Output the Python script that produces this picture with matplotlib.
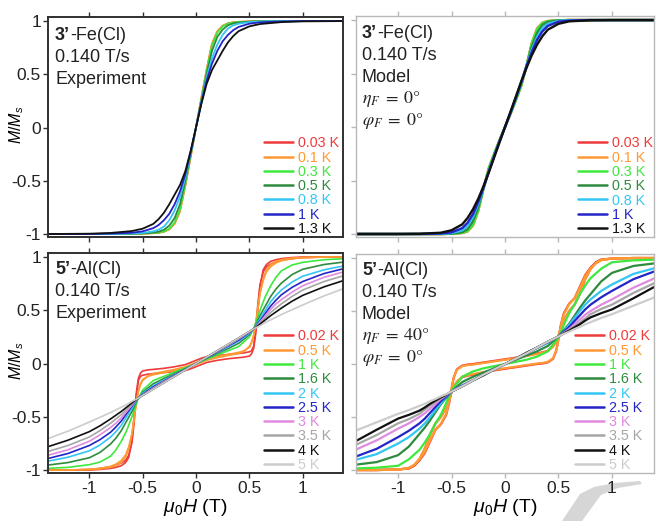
import matplotlib
matplotlib.use("Agg")
import matplotlib.pyplot as plt
from matplotlib.patches import Polygon

plt.rcParams['font.family'] = ['Liberation Sans', 'DejaVu Sans']
plt.rcParams['axes.unicode_minus'] = False
plt.rcParams['mathtext.fontset'] = 'custom'
plt.rcParams['mathtext.rm'] = 'Liberation Sans'
plt.rcParams['mathtext.it'] = 'Liberation Sans:italic'
plt.rcParams['mathtext.bf'] = 'Liberation Sans:bold'

# ---------------- data ----------------
TICKS = [-1, -0.5, 0, 0.5, 1]
TICK_LABELS = ['-1', '-0.5', '0', '0.5', '1']

FE_TEMPS = ['0.03 K', '0.1 K', '0.3 K', '0.5 K', '0.8 K', '1 K', '1.3 K']
FE_COLORS = ['#ee3b3b', '#ff9933', '#3ee83e', '#2e8b3e', '#33c6f5', '#2424c8', '#111111']
AL_TEMPS = ['0.02 K', '0.5 K', '1 K', '1.6 K', '2 K', '2.5 K', '3 K', '3.5 K', '4 K', '5 K']
AL_COLORS = ['#ee3b3b', '#ff9933', '#3ee83e', '#2e8b3e', '#33c6f5', '#2424c8',
             '#e08ae0', '#a6a6a6', '#111111', '#cccccc']

# 3'-Fe(Cl) field grid (T)
H_FE = [-1.4, -1.0, -0.8, -0.6, -0.5, -0.4, -0.35, -0.3, -0.25, -0.2, -0.15, -0.1, -0.05,
        0.0, 0.05, 0.1, 0.15, 0.2, 0.25, 0.3, 0.35, 0.4, 0.5, 0.6, 0.8, 1.0, 1.4]

FE_EXP_003 = [-1, -1, -1, -0.998, -0.996, -0.992, -0.988, -0.978, -0.955, -0.9, -0.78, -0.54, -0.27,
              0, 0.27, 0.54, 0.78, 0.9, 0.955, 0.978, 0.988, 0.992, 0.996, 0.998, 1, 1, 1]
FE_EXP_01 = [-1, -1, -1, -0.998, -0.996, -0.992, -0.988, -0.978, -0.956, -0.905, -0.79, -0.55, -0.28,
             0, 0.28, 0.55, 0.79, 0.905, 0.956, 0.978, 0.988, 0.992, 0.996, 0.998, 1, 1, 1]
FE_EXP_03 = [-1, -1, -1, -0.998, -0.995, -0.991, -0.986, -0.975, -0.95, -0.89, -0.77, -0.53, -0.26,
             0, 0.26, 0.53, 0.77, 0.89, 0.95, 0.975, 0.986, 0.991, 0.995, 0.998, 1, 1, 1]
FE_EXP_05 = [-1, -1, -1, -0.997, -0.994, -0.987, -0.978, -0.96, -0.92, -0.85, -0.72, -0.5, -0.25,
             0, 0.25, 0.5, 0.72, 0.85, 0.92, 0.96, 0.978, 0.987, 0.994, 0.997, 1, 1, 1]
FE_EXP_08 = [-1, -1, -0.999, -0.995, -0.99, -0.975, -0.96, -0.93, -0.87, -0.78, -0.65, -0.47, -0.24,
             0, 0.24, 0.47, 0.65, 0.78, 0.87, 0.93, 0.96, 0.975, 0.99, 0.995, 0.999, 1, 1]
FE_EXP_1 = [-1, -1, -0.996, -0.988, -0.975, -0.945, -0.915, -0.87, -0.81, -0.72, -0.6, -0.44, -0.23,
            0, 0.23, 0.44, 0.6, 0.72, 0.81, 0.87, 0.915, 0.945, 0.975, 0.988, 0.996, 1, 1]
FE_EXP_13 = [-1, -0.997, -0.99, -0.972, -0.95, -0.905, -0.86, -0.8, -0.72, -0.63, -0.54, -0.41, -0.22,
             0, 0.22, 0.41, 0.54, 0.63, 0.72, 0.8, 0.86, 0.905, 0.95, 0.972, 0.99, 0.997, 1]

FE_MOD_003 = [-1, -1, -1, -1, -0.998, -0.99, -0.975, -0.92, -0.78, -0.56, -0.38, -0.25, -0.12,
              0, 0.12, 0.25, 0.38, 0.56, 0.78, 0.92, 0.975, 0.99, 0.998, 1, 1, 1, 1]
FE_MOD_01 = [-1, -1, -1, -1, -0.998, -0.99, -0.975, -0.92, -0.785, -0.57, -0.385, -0.25, -0.12,
             0, 0.12, 0.25, 0.385, 0.57, 0.785, 0.92, 0.975, 0.99, 0.998, 1, 1, 1, 1]
FE_MOD_03 = [-1, -1, -1, -1, -0.998, -0.99, -0.972, -0.915, -0.78, -0.57, -0.38, -0.245, -0.12,
             0, 0.12, 0.245, 0.38, 0.57, 0.78, 0.915, 0.972, 0.99, 0.998, 1, 1, 1, 1]
FE_MOD_05 = [-1, -1, -1, -1, -0.997, -0.983, -0.955, -0.88, -0.75, -0.57, -0.4, -0.255, -0.125,
             0, 0.125, 0.255, 0.4, 0.57, 0.75, 0.88, 0.955, 0.983, 0.997, 1, 1, 1, 1]
FE_MOD_08 = [-1, -1, -1, -0.998, -0.992, -0.965, -0.925, -0.84, -0.72, -0.57, -0.41, -0.265, -0.13,
             0, 0.13, 0.265, 0.41, 0.57, 0.72, 0.84, 0.925, 0.965, 0.992, 0.998, 1, 1, 1]
FE_MOD_1 = [-1, -1, -1, -0.995, -0.985, -0.945, -0.895, -0.815, -0.7, -0.565, -0.415, -0.27, -0.13,
            0, 0.13, 0.27, 0.415, 0.565, 0.7, 0.815, 0.895, 0.945, 0.985, 0.995, 1, 1, 1]
FE_MOD_13 = [-1, -1, -0.998, -0.988, -0.965, -0.91, -0.85, -0.77, -0.67, -0.55, -0.42, -0.28, -0.14,
             0, 0.14, 0.28, 0.42, 0.55, 0.67, 0.77, 0.85, 0.91, 0.965, 0.988, 0.998, 1, 1]

# 5'-Al(Cl): grid for the smooth curves
H_AL = [-1.4, -1.2, -1.0, -0.9, -0.8, -0.75, -0.7, -0.65, -0.6, -0.55, -0.5, -0.4, -0.3, -0.2, -0.1,
        0.0, 0.1, 0.2, 0.3, 0.4, 0.5, 0.55, 0.6, 0.65, 0.7, 0.75, 0.8, 0.9, 1.0, 1.2, 1.4]
# finer grids for the low-temperature loops (up and down sweeps)
H_AL_EXP_LOOP = [-1.4, -1.2, -1.0, -0.9, -0.8, -0.75, -0.7, -0.66, -0.63, -0.6, -0.58, -0.56,
                 -0.54, -0.52, -0.5, -0.45, -0.4, -0.3, -0.2, -0.1, -0.05, 0.0, 0.05, 0.1, 0.2,
                 0.3, 0.4, 0.45, 0.5, 0.52, 0.54, 0.56, 0.58, 0.6, 0.63, 0.66, 0.7, 0.75, 0.8,
                 0.9, 1.0, 1.2, 1.4]
H_AL_MOD_LOOP = [-1.4, -1.2, -1.0, -0.9, -0.85, -0.8, -0.75, -0.7, -0.65, -0.6, -0.55, -0.52,
                 -0.5, -0.48, -0.45, -0.4, -0.35, -0.3, -0.2, -0.1, 0.0, 0.1, 0.2, 0.3, 0.35,
                 0.4, 0.45, 0.48, 0.5, 0.52, 0.55, 0.6, 0.65, 0.7, 0.75, 0.8, 0.85, 0.9, 1.0,
                 1.2, 1.4]

AL_EXP_002_UP = [-1.0, -1.0, -1.0, -0.995, -0.985, -0.975, -0.96, -0.93, -0.88, -0.72, -0.5, -0.28,
                 -0.14, -0.09, -0.07, -0.06, -0.055, -0.045, -0.03, -0.01, 0.01, 0.03, 0.05, 0.065,
                 0.075, 0.085, 0.095, 0.1, 0.11, 0.12, 0.16, 0.32, 0.56, 0.74, 0.86, 0.91, 0.935,
                 0.955, 0.97, 0.985, 0.995, 1.0, 1.0]
AL_EXP_002_DOWN = [-1.0, -1.0, -0.995, -0.985, -0.97, -0.955, -0.935, -0.91, -0.86, -0.74, -0.56,
                   -0.32, -0.16, -0.12, -0.11, -0.1, -0.095, -0.085, -0.075, -0.065, -0.05, -0.03,
                   -0.01, 0.01, 0.03, 0.045, 0.055, 0.06, 0.07, 0.09, 0.14, 0.28, 0.5, 0.72, 0.88,
                   0.93, 0.96, 0.975, 0.985, 0.995, 1.0, 1.0, 1.0]
AL_EXP_05_UP = [-1.0, -1.0, -0.995, -0.99, -0.975, -0.96, -0.93, -0.88, -0.8, -0.66, -0.5, -0.36,
                -0.26, -0.2, -0.16, -0.115, -0.095, -0.075, -0.055, -0.03, -0.01, 0.01, 0.03,
                0.045, 0.065, 0.085, 0.105, 0.12, 0.15, 0.19, 0.26, 0.38, 0.53, 0.66, 0.78, 0.86,
                0.91, 0.945, 0.965, 0.985, 0.995, 1.0, 1.0]
AL_EXP_05_DOWN = [-1.0, -1.0, -0.995, -0.985, -0.965, -0.945, -0.91, -0.86, -0.78, -0.66, -0.53,
                  -0.38, -0.26, -0.19, -0.15, -0.12, -0.105, -0.085, -0.065, -0.045, -0.03, -0.01,
                  0.01, 0.03, 0.055, 0.075, 0.095, 0.115, 0.16, 0.2, 0.26, 0.36, 0.5, 0.66, 0.8,
                  0.88, 0.93, 0.96, 0.975, 0.99, 0.995, 1.0, 1.0]
AL_EXP_1 = [-0.985, -0.975, -0.95, -0.925, -0.87, -0.81, -0.73, -0.63, -0.5, -0.35, -0.25, -0.16,
            -0.12, -0.08, -0.04,
            0, 0.04, 0.08, 0.12, 0.16, 0.25, 0.35, 0.5, 0.63, 0.73, 0.81, 0.87, 0.925, 0.95, 0.975, 0.985]
AL_EXP_16 = [-0.955, -0.93, -0.885, -0.835, -0.755, -0.7, -0.63, -0.54, -0.45, -0.34, -0.27, -0.19,
             -0.14, -0.095, -0.05,
             0, 0.05, 0.095, 0.14, 0.19, 0.27, 0.34, 0.45, 0.54, 0.63, 0.7, 0.755, 0.835, 0.885, 0.93, 0.955]
AL_EXP_2 = [-0.92, -0.88, -0.82, -0.765, -0.69, -0.64, -0.58, -0.5, -0.42, -0.335, -0.28, -0.21,
            -0.155, -0.105, -0.055,
            0, 0.055, 0.105, 0.155, 0.21, 0.28, 0.335, 0.42, 0.5, 0.58, 0.64, 0.69, 0.765, 0.82, 0.88, 0.92]
AL_EXP_25 = [-0.895, -0.845, -0.77, -0.715, -0.645, -0.595, -0.54, -0.47, -0.4, -0.33, -0.29, -0.22,
             -0.165, -0.11, -0.055,
             0, 0.055, 0.11, 0.165, 0.22, 0.29, 0.33, 0.4, 0.47, 0.54, 0.595, 0.645, 0.715, 0.77, 0.845, 0.895]
AL_EXP_3 = [-0.865, -0.81, -0.73, -0.67, -0.6, -0.56, -0.51, -0.45, -0.39, -0.33, -0.295, -0.23,
            -0.17, -0.115, -0.06,
            0, 0.06, 0.115, 0.17, 0.23, 0.295, 0.33, 0.39, 0.45, 0.51, 0.56, 0.6, 0.67, 0.73, 0.81, 0.865]
AL_EXP_35 = [-0.83, -0.77, -0.69, -0.63, -0.56, -0.52, -0.48, -0.43, -0.38, -0.33, -0.3, -0.235,
             -0.175, -0.12, -0.06,
             0, 0.06, 0.12, 0.175, 0.235, 0.3, 0.33, 0.38, 0.43, 0.48, 0.52, 0.56, 0.63, 0.69, 0.77, 0.83]
AL_EXP_4 = [-0.785, -0.72, -0.64, -0.585, -0.52, -0.485, -0.45, -0.41, -0.37, -0.33, -0.3, -0.24,
            -0.18, -0.12, -0.06,
            0, 0.06, 0.12, 0.18, 0.24, 0.3, 0.33, 0.37, 0.41, 0.45, 0.485, 0.52, 0.585, 0.64, 0.72, 0.785]
AL_EXP_5 = [-0.71, -0.635, -0.55, -0.505, -0.46, -0.435, -0.41, -0.385, -0.355, -0.33, -0.3, -0.24,
            -0.18, -0.12, -0.06,
            0, 0.06, 0.12, 0.18, 0.24, 0.3, 0.33, 0.355, 0.385, 0.41, 0.435, 0.46, 0.505, 0.55, 0.635, 0.71]

AL_MOD_002_UP = [-1.0, -1.0, -0.995, -0.985, -0.96, -0.91, -0.84, -0.73, -0.62, -0.57, -0.48,
                 -0.36, -0.24, -0.13, -0.05, -0.015, -0.005, 0.0, 0.015, 0.03, 0.045, 0.06, 0.08,
                 0.1, 0.11, 0.125, 0.17, 0.22, 0.27, 0.33, 0.41, 0.5, 0.56, 0.66, 0.8, 0.9, 0.96,
                 0.985, 0.995, 1.0, 1.0]
AL_MOD_002_DOWN = [-1.0, -1.0, -0.995, -0.985, -0.96, -0.9, -0.8, -0.66, -0.56, -0.5, -0.41,
                   -0.33, -0.27, -0.22, -0.17, -0.125, -0.11, -0.1, -0.08, -0.06, -0.045, -0.03,
                   -0.015, 0.0, 0.005, 0.015, 0.05, 0.13, 0.24, 0.36, 0.48, 0.57, 0.62, 0.73,
                   0.84, 0.91, 0.96, 0.985, 0.995, 1.0, 1.0]
AL_MOD_05_UP = [-1.0, -1.0, -0.995, -0.98, -0.95, -0.9, -0.83, -0.72, -0.62, -0.565, -0.47,
                -0.35, -0.23, -0.13, -0.055, -0.02, -0.01, -0.005, 0.01, 0.025, 0.04, 0.055,
                0.075, 0.095, 0.105, 0.12, 0.165, 0.215, 0.265, 0.325, 0.41, 0.5, 0.56, 0.67,
                0.8, 0.895, 0.955, 0.982, 0.995, 1.0, 1.0]
AL_MOD_05_DOWN = [-1.0, -1.0, -0.995, -0.982, -0.955, -0.895, -0.8, -0.67, -0.56, -0.5, -0.41,
                  -0.325, -0.265, -0.215, -0.165, -0.12, -0.105, -0.095, -0.075, -0.055, -0.04,
                  -0.025, -0.01, 0.005, 0.01, 0.02, 0.055, 0.13, 0.23, 0.35, 0.47, 0.565, 0.62,
                  0.72, 0.83, 0.9, 0.95, 0.98, 0.995, 1.0, 1.0]
AL_MOD_1 = [-0.985, -0.978, -0.96, -0.9, -0.81, -0.74, -0.66, -0.56, -0.48, -0.37, -0.25, -0.12,
            -0.07, -0.04, -0.02,
            0, 0.02, 0.04, 0.07, 0.12, 0.25, 0.37, 0.48, 0.56, 0.66, 0.74, 0.81, 0.9, 0.96, 0.978, 0.985]
AL_MOD_16 = [-0.95, -0.925, -0.86, -0.78, -0.66, -0.6, -0.53, -0.455, -0.38, -0.32, -0.26, -0.17,
             -0.12, -0.08, -0.04,
             0, 0.04, 0.08, 0.12, 0.17, 0.26, 0.32, 0.38, 0.455, 0.53, 0.6, 0.66, 0.78, 0.86, 0.925, 0.95]
AL_MOD_2 = [-0.905, -0.85, -0.75, -0.69, -0.61, -0.56, -0.5, -0.435, -0.37, -0.31, -0.26, -0.2,
            -0.15, -0.1, -0.05,
            0, 0.05, 0.1, 0.15, 0.2, 0.26, 0.31, 0.37, 0.435, 0.5, 0.56, 0.61, 0.69, 0.75, 0.85, 0.905]
AL_MOD_25 = [-0.875, -0.8, -0.69, -0.63, -0.56, -0.515, -0.46, -0.405, -0.35, -0.305, -0.26, -0.205,
             -0.155, -0.1, -0.05,
             0, 0.05, 0.1, 0.155, 0.205, 0.26, 0.305, 0.35, 0.405, 0.46, 0.515, 0.56, 0.63, 0.69, 0.8, 0.875]
AL_MOD_3 = [-0.81, -0.72, -0.61, -0.56, -0.5, -0.465, -0.42, -0.375, -0.33, -0.295, -0.26, -0.21,
            -0.155, -0.105, -0.05,
            0, 0.05, 0.105, 0.155, 0.21, 0.26, 0.295, 0.33, 0.375, 0.42, 0.465, 0.5, 0.56, 0.61, 0.72, 0.81]
AL_MOD_35 = [-0.765, -0.67, -0.56, -0.52, -0.47, -0.43, -0.39, -0.355, -0.32, -0.29, -0.26, -0.21,
             -0.155, -0.105, -0.05,
             0, 0.05, 0.105, 0.155, 0.21, 0.26, 0.29, 0.32, 0.355, 0.39, 0.43, 0.47, 0.52, 0.56, 0.67, 0.765]
AL_MOD_4 = [-0.73, -0.62, -0.515, -0.48, -0.44, -0.41, -0.375, -0.345, -0.315, -0.29, -0.26, -0.21,
            -0.155, -0.105, -0.05,
            0, 0.05, 0.105, 0.155, 0.21, 0.26, 0.29, 0.315, 0.345, 0.375, 0.41, 0.44, 0.48, 0.515, 0.62, 0.73]
AL_MOD_5 = [-0.63, -0.55, -0.47, -0.435, -0.395, -0.375, -0.35, -0.33, -0.305, -0.285, -0.26, -0.21,
            -0.155, -0.1, -0.05,
            0, 0.05, 0.1, 0.155, 0.21, 0.26, 0.285, 0.305, 0.33, 0.35, 0.375, 0.395, 0.435, 0.47, 0.55, 0.63]

# each temperature: (field grid, [sweeps])
FE_EXP = [(H_FE, [c]) for c in [FE_EXP_003, FE_EXP_01, FE_EXP_03, FE_EXP_05, FE_EXP_08, FE_EXP_1, FE_EXP_13]]
FE_MOD = [(H_FE, [c]) for c in [FE_MOD_003, FE_MOD_01, FE_MOD_03, FE_MOD_05, FE_MOD_08, FE_MOD_1, FE_MOD_13]]
AL_EXP = [(H_AL_EXP_LOOP, [AL_EXP_002_UP, AL_EXP_002_DOWN]),
          (H_AL_EXP_LOOP, [AL_EXP_05_UP, AL_EXP_05_DOWN])] + \
         [(H_AL, [c]) for c in [AL_EXP_1, AL_EXP_16, AL_EXP_2, AL_EXP_25, AL_EXP_3, AL_EXP_35, AL_EXP_4, AL_EXP_5]]
AL_MOD = [(H_AL_MOD_LOOP, [AL_MOD_002_UP, AL_MOD_002_DOWN]),
          (H_AL_MOD_LOOP, [AL_MOD_05_UP, AL_MOD_05_DOWN])] + \
         [(H_AL, [c]) for c in [AL_MOD_1, AL_MOD_16, AL_MOD_2, AL_MOD_25, AL_MOD_3, AL_MOD_35, AL_MOD_4, AL_MOD_5]]

# ---------------- figure ----------------
W, H = 656, 521
fig = plt.figure(figsize=(W / 100, H / 100), dpi=100)


def add_axes_px(left, top, right, bottom):
    return fig.add_axes([left / W, 1 - bottom / H, (right - left) / W, (bottom - top) / H])


ax_fe_exp = add_axes_px(48, 17, 343, 237)
ax_fe_mod = add_axes_px(356, 16, 654, 237)
ax_al_exp = add_axes_px(48, 253, 343, 473)
ax_al_mod = add_axes_px(356, 254, 654, 473)


def style(ax, model, bottom_row):
    if model:
        ax.set_xlim(-1.393, 1.393)
        edge = '#b8b8b8'
        lw = 1.0
    else:
        ax.set_xlim(-1.387, 1.378)
        edge = '#303030'
        lw = 1.4
    ax.set_ylim(-1.028, 1.038)
    for s in ax.spines.values():
        s.set_color(edge)
        s.set_linewidth(lw)
    ax.set_xticks(TICKS)
    ax.set_yticks(TICKS)
    ax.set_xticklabels(TICK_LABELS)
    ax.set_yticklabels(TICK_LABELS)
    ax.tick_params(direction='out', length=3.5, width=1, colors=edge, labelcolor='#222222',
                   labelsize=12.5, top=True, bottom=True, right=False, pad=1.5)
    ax.tick_params(axis='x', labelbottom=bottom_row, pad=2)
    ax.tick_params(axis='y', labelleft=not model)
    if not model:
        ax.set_ylabel(r'$M/M_s$', fontsize=11.5)
        ax.yaxis.set_label_coords(-0.074, 0.51)
    if bottom_row:
        ax.set_xlabel(r'$\mu_0H$ (T)', fontsize=14)
        ax.xaxis.set_label_coords(0.5, -35 / 220)
        ax.xaxis.label.set_va('center')


def draw(ax, curves, temps, colors, lw, anchor_x):
    for (hgrid, sweeps), t, c in zip(curves, temps, colors):
        for i, m in enumerate(sweeps):
            ax.plot(hgrid, m, color=c, lw=lw, label=t if i == 0 else None,
                    solid_capstyle='round', solid_joinstyle='round')
    leg = ax.legend(loc='lower right', bbox_to_anchor=(anchor_x, -0.012), frameon=False,
                    fontsize=10.3, labelspacing=0.02, handlelength=2.0, handletextpad=0.4,
                    borderaxespad=0.1, borderpad=0.15, labelcolor='linecolor')
    for ln in leg.get_lines():
        ln.set_linewidth(1.8)


def caption(ax, compound, lines, x, y0, dy):
    t = ax.text(x, y0, compound[0], transform=ax.transAxes, fontsize=13, fontweight='bold',
                va='center', ha='left', color='#222222')
    ax.annotate(compound[1], xy=(1, 0), xycoords=t, va='bottom', ha='left', fontsize=13,
                color='#222222')
    for i, line in enumerate(lines):
        kw = {}
        if line.startswith('$'):
            kw['math_fontfamily'] = 'stix'
        ax.text(x, y0 - dy * (i + 1), line, transform=ax.transAxes, fontsize=13, va='center',
                ha='left', color='#222222', **kw)


style(ax_fe_exp, False, False)
style(ax_fe_mod, True, False)
style(ax_al_exp, False, True)
style(ax_al_mod, True, True)

draw(ax_fe_exp, FE_EXP, FE_TEMPS, FE_COLORS, 1.3, 1.0)
draw(ax_fe_mod, FE_MOD, FE_TEMPS, FE_COLORS, 1.7, 1.01)
draw(ax_al_exp, AL_EXP, AL_TEMPS, AL_COLORS, 1.2, 1.0)
draw(ax_al_mod, AL_MOD, AL_TEMPS, AL_COLORS, 1.6, 1.0)

caption(ax_fe_exp, ('3\u2019', '-Fe(Cl)'), ['0.140 T/s', 'Experiment'], 0.024, 0.918, 0.1)
caption(ax_fe_mod, ('3\u2019', '-Fe(Cl)'),
        ['0.140 T/s', 'Model', r'$\eta_F\;=\;0\degree$', r'$\varphi_F\;=\;0\degree$'],
        0.02, 0.923, 0.1)
caption(ax_al_exp, ('5\u2019', '-Al(Cl)'), ['0.140 T/s', 'Experiment'], 0.024, 0.923, 0.098)
caption(ax_al_mod, ('5\u2019', '-Al(Cl)'),
        ['0.140 T/s', 'Model', r'$\eta_F\;=\;40\degree$', r'$\varphi_F\;=\;0\degree$'],
        0.02, 0.923, 0.099)

# light grey swoosh in the lower right corner of the page
swoosh = [(562, 521), (580, 494), (594, 487), (615, 483), (640, 481), (642, 484),
          (618, 488), (601, 495), (582, 521)]
fig.add_artist(Polygon([(x / W, 1 - y / H) for x, y in swoosh], closed=True,
                       transform=fig.transFigure, fc='#d6d6d6', ec='none', zorder=-1))

fig.savefig('out.png', dpi=100)
